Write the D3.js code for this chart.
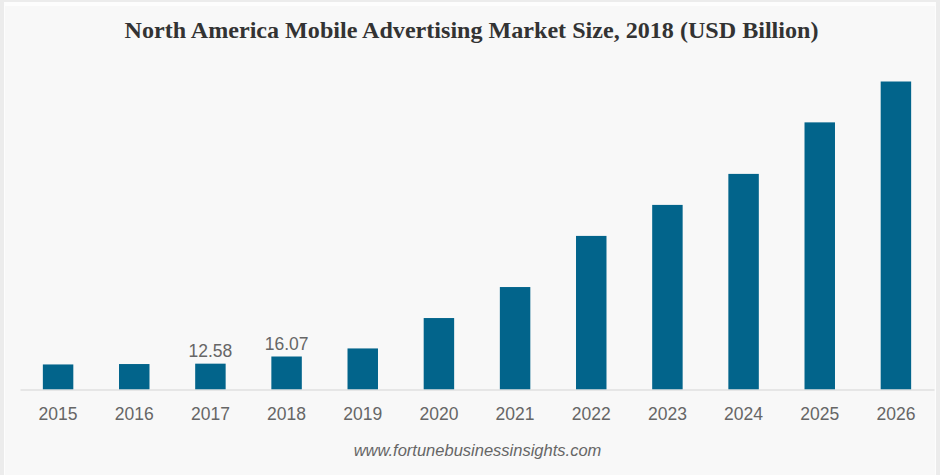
<!DOCTYPE html>
<html lang="en">
<head>
<meta charset="utf-8">
<title>North America Mobile Advertising Market Size</title>
<script src="https://cdnjs.cloudflare.com/ajax/libs/d3/7.8.5/d3.min.js"></script>
<style>
  html, body { margin: 0; padding: 0; background: #fff; }
  svg { display: block; }
</style>
</head>
<body>
<script>
var years = ["2015", "2016", "2017", "2018", "2019", "2020", "2021", "2022", "2023", "2024", "2025", "2026"];
var marketSize = [12.2, 12.4, 12.58, 16.07, 20, 34.8, 49.9, 74.8, 89.9, 105, 130.1, 150];
var labelledYears = ["2017", "2018"];
var titleText = "North America Mobile Advertising Market Size, 2018 (USD Billion)";
var sourceText = "www.fortunebusinessinsights.com";

var w = 940, h = 475;

var svg = d3.select("body").append("svg")
  .attr("width", w)
  .attr("height", h);

// page background with the pale frame of the original
svg.append("rect").attr("width", w).attr("height", h).attr("fill", "#ececec");
svg.append("rect").attr("x", 4).attr("y", 2).attr("width", w - 8).attr("height", h - 2).attr("fill", "#fdfdfd");
svg.append("rect").attr("x", 5).attr("y", 6).attr("width", w - 10).attr("height", h - 6).attr("fill", "#f8f8f8");

var x = d3.scaleBand().domain(years).range([20, 934]).paddingInner(0.6).paddingOuter(0.3);
var y = d3.scaleLinear().domain([0, 150]).range([389.5, 81.5]);

svg.append("text")
  .attr("x", 471.5)
  .attr("y", 38)
  .attr("text-anchor", "middle")
  .attr("font-family", "'Liberation Serif', serif")
  .attr("font-weight", "bold")
  .attr("font-size", 24.1)
  .attr("fill", "#333333")
  .text(titleText);

svg.selectAll("rect.bar")
  .data(marketSize)
  .enter()
  .append("rect")
  .attr("class", "bar")
  .attr("x", function(d, i) { return x(years[i]); })
  .attr("y", function(d) { return y(d); })
  .attr("width", x.bandwidth())
  .attr("height", function(d) { return y(0) - y(d); })
  .attr("fill", "#02648b");

var axis = svg.append("g")
  .attr("transform", "translate(0," + y(0) + ")")
  .call(d3.axisBottom(x).tickSize(0).tickPadding(18));
axis.select(".domain").attr("stroke", "#d4d4d4").attr("stroke-width", 1);
axis.selectAll("text")
  .attr("font-family", "'Liberation Sans', Arial, sans-serif")
  .attr("font-size", 17.5)
  .attr("fill", "#666666");

svg.selectAll("text.value")
  .data(marketSize)
  .enter()
  .filter(function(d, i) { return labelledYears.indexOf(years[i]) >= 0; })
  .append("text")
  .attr("class", "value")
  .attr("x", function(d) { return x(years[marketSize.indexOf(d)]) + x.bandwidth() / 2; })
  .attr("y", function(d) { return y(d) - 7; })
  .attr("text-anchor", "middle")
  .attr("font-family", "'Liberation Sans', Arial, sans-serif")
  .attr("font-size", 17.5)
  .attr("fill", "#666666")
  .text(function(d) { return d; });

svg.append("text")
  .attr("x", 477.5)
  .attr("y", 456)
  .attr("text-anchor", "middle")
  .attr("font-family", "'Liberation Sans', Arial, sans-serif")
  .attr("font-style", "italic")
  .attr("font-size", 16.5)
  .attr("fill", "#666666")
  .text(sourceText);
</script>
</body>
</html>
